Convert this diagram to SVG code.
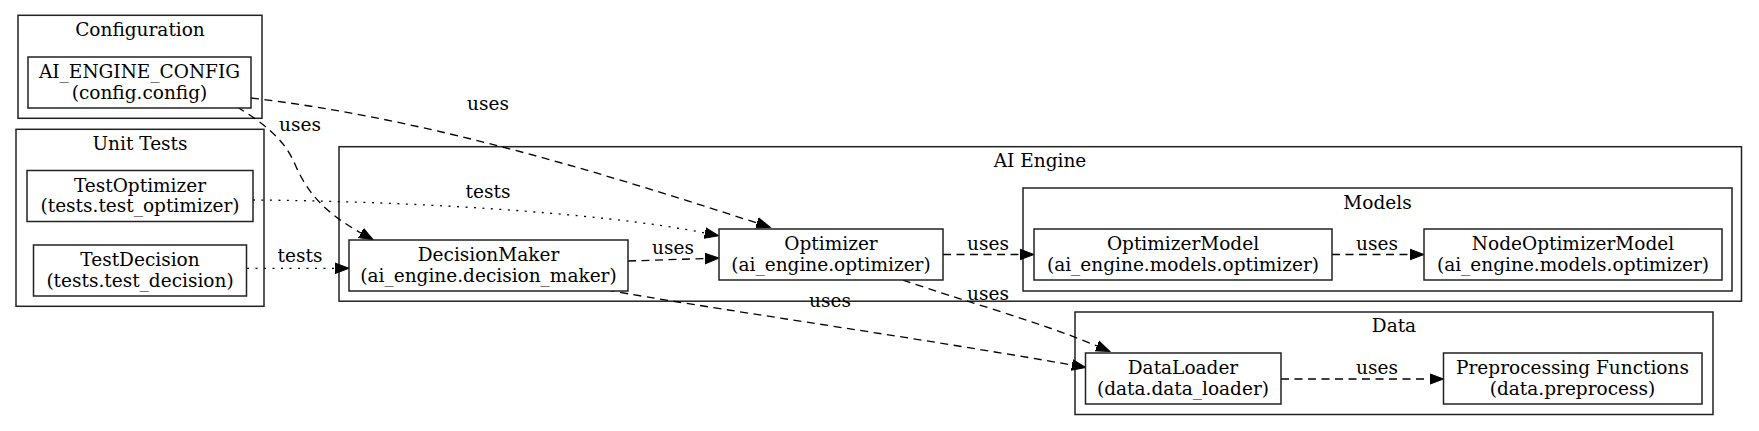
<svg xmlns="http://www.w3.org/2000/svg" width="1759" height="431" viewBox="0 0 1759 431">
<style>
text{font-family:"DejaVu Serif","Liberation Serif",serif;font-size:18.5px;fill:#000;text-anchor:middle}
.cl{fill:none;stroke:#222;stroke-width:1.5}
.nd{fill:#fff;stroke:#222;stroke-width:1.5}
.e{fill:none;stroke:#000;stroke-width:1.33}
.da{stroke-dasharray:8,5.5}
.do{stroke-dasharray:2,6.5}
</style>
<defs>
<marker id="ah" markerUnits="userSpaceOnUse" markerWidth="16" markerHeight="14" viewBox="0 -7 16 14" refX="0" refY="0" orient="auto">
<path d="M0,-5.3 L14,0 L0,5.3 Z" fill="#000" stroke="#000" stroke-width="1"/>
</marker>
</defs>
<rect width="1759" height="431" fill="#fff"/>
<g id="clusters">
<g id="cluster-configuration"><rect class="cl" x="18" y="15.3" width="244" height="103"/><text x="140" y="36">Configuration</text></g>
<g id="cluster-unittests"><rect class="cl" x="16" y="129.3" width="248" height="177"/><text x="140" y="150">Unit Tests</text></g>
<g id="cluster-aiengine"><rect class="cl" x="339" y="146.7" width="1402.5" height="154.5"/><text x="1040" y="167">AI Engine</text></g>
<g id="cluster-models"><rect class="cl" x="1023" y="188" width="709" height="103"/><text x="1377.5" y="208.5">Models</text></g>
<g id="cluster-data"><rect class="cl" x="1075" y="312" width="638" height="102.5"/><text x="1394" y="332">Data</text></g>
</g>
<g id="edges">
<path class="e da" d="M251,98 C421,118 587,168 757,223" marker-end="url(#ah)"/>
<text x="488" y="110">uses</text>
<path class="e da" d="M237,107 C262,122 283,138 294,162 C305,188 320,210 361,233" marker-end="url(#ah)"/>
<text x="300" y="130.5">uses</text>
<path class="e do" d="M253,200 C400,201 600,212 705,233" marker-end="url(#ah)"/>
<text x="488" y="198">tests</text>
<path class="e do" d="M247,268.3 L335,268.3" marker-end="url(#ah)"/>
<text x="300" y="261.5">tests</text>
<path class="e da" d="M628,261 L705,258.5" marker-end="url(#ah)"/>
<text x="673" y="254">uses</text>
<path class="e da" d="M607,290 C700,307 900,335 1072,365" marker-end="url(#ah)"/>
<text x="830" y="306.5">uses</text>
<path class="e da" d="M943,254.5 L1020,254.5" marker-end="url(#ah)"/>
<text x="988" y="250">uses</text>
<path class="e da" d="M903,280 C960,300 1040,322 1097,346" marker-end="url(#ah)"/>
<text x="988" y="300">uses</text>
<path class="e da" d="M1332,254.5 L1410,254.5" marker-end="url(#ah)"/>
<text x="1377" y="250">uses</text>
<path class="e da" d="M1281,379 L1429.5,379" marker-end="url(#ah)"/>
<text x="1377" y="374">uses</text>
</g>
<g id="node-config"><rect class="nd" x="28" y="57" width="223" height="51"/><text x="139.5" y="78">AI_ENGINE_CONFIG</text><text x="139.5" y="98.5">(config.config)</text></g>
<g id="node-testoptimizer"><rect class="nd" x="27" y="170.5" width="226" height="51"/><text x="140" y="191.5">TestOptimizer</text><text x="140" y="212">(tests.test_optimizer)</text></g>
<g id="node-testdecision"><rect class="nd" x="33.5" y="245" width="213" height="51"/><text x="140" y="266">TestDecision</text><text x="140" y="286.5">(tests.test_decision)</text></g>
<g id="node-decisionmaker"><rect class="nd" x="349" y="240" width="279" height="51"/><text x="488.5" y="261">DecisionMaker</text><text x="488.5" y="281.5">(ai_engine.decision_maker)</text></g>
<g id="node-optimizer"><rect class="nd" x="719" y="229" width="224" height="51"/><text x="831" y="250">Optimizer</text><text x="831" y="270.5">(ai_engine.optimizer)</text></g>
<g id="node-optimizermodel"><rect class="nd" x="1034" y="229" width="298" height="51"/><text x="1183" y="250">OptimizerModel</text><text x="1183" y="270.5">(ai_engine.models.optimizer)</text></g>
<g id="node-nodeoptimizermodel"><rect class="nd" x="1424" y="229" width="298" height="51"/><text x="1573" y="250">NodeOptimizerModel</text><text x="1573" y="270.5">(ai_engine.models.optimizer)</text></g>
<g id="node-dataloader"><rect class="nd" x="1085.5" y="353" width="195.5" height="51"/><text x="1183" y="374">DataLoader</text><text x="1183" y="394.5">(data.data_loader)</text></g>
<g id="node-preprocess"><rect class="nd" x="1443.5" y="353" width="258.5" height="51"/><text x="1572.5" y="374">Preprocessing Functions</text><text x="1572.5" y="394.5">(data.preprocess)</text></g>
</svg>
